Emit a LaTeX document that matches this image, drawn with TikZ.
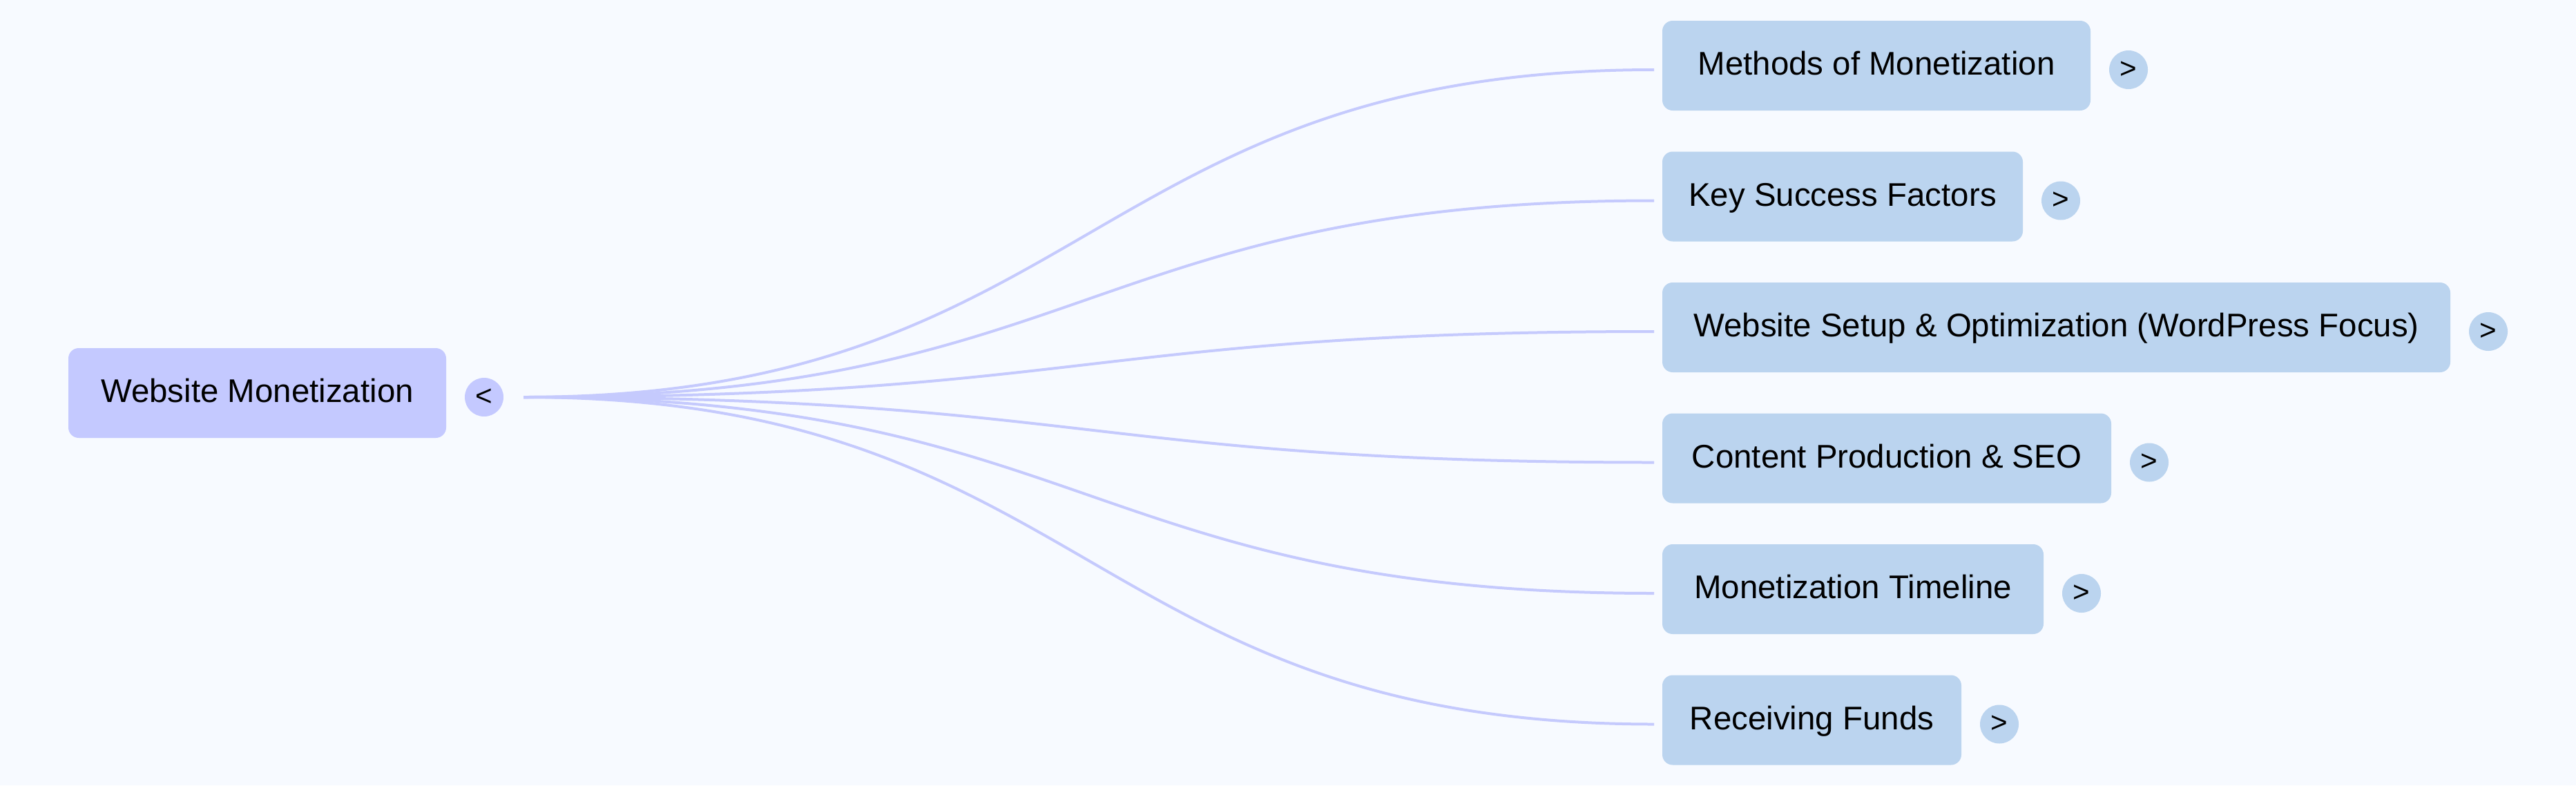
\documentclass[tikz,border=0pt]{standalone}
\usepackage{fontspec}
\setmainfont{Liberation Sans}
\usetikzlibrary{positioning,calc}
\definecolor{bgcolor}{HTML}{F7FAFF}
\definecolor{rootcolor}{HTML}{C4C9FF}
\definecolor{childcolor}{HTML}{BBD4EF}
\definecolor{linkcolor}{HTML}{C5CAFD}

\begin{document}
\begin{tikzpicture}[
  font=\fontsize{13.5pt}{16pt}\selectfont,
  rootbox/.style={fill=rootcolor, rounded corners=0.15cm, minimum height=1.3cm, inner xsep=0.3cm, outer sep=0pt, text height=0.34cm, text depth=0.07cm},
  childbox/.style={rootbox, fill=childcolor},
  toggle/.style={circle, minimum size=0.56cm, inner sep=0pt, outer sep=0pt, font=\fontsize{12pt}{14pt}\selectfont, yshift=-0.06cm},
  link/.style={draw=linkcolor, line width=0.04cm},
]

% Canvas
\fill[bgcolor] (0,0) rectangle (37.3,-11.37);
\useasboundingbox (0,0) rectangle (37.3,-11.37);

% Root topic with its collapse toggle
\node[rootbox, minimum width=5.47cm, anchor=north west] (webmon) at (0.99,-5.04) {Website Monetization};
\node[toggle, fill=rootcolor, right=0.27cm of webmon] (webmon-tg) {<};
\coordinate (hub) at ($(webmon-tg.east)+(0.29,0)$);

% Child topics, stacked top to bottom
\node[childbox, minimum width=6.20cm, anchor=north west] (methods) at (24.07,-0.30) {Methods of Monetization};
\node[childbox, minimum width=5.22cm, below=0.595cm of methods.south west, anchor=north west] (factors) {Key Success Factors};
\node[childbox, minimum width=11.41cm, below=0.595cm of factors.south west, anchor=north west] (setup) {Website Setup \& Optimization (WordPress Focus)};
\node[childbox, minimum width=6.50cm, below=0.595cm of setup.south west, anchor=north west] (content) {Content Production \& SEO};
\node[childbox, minimum width=5.52cm, below=0.595cm of content.south west, anchor=north west] (timeline) {Monetization Timeline};
\node[childbox, minimum width=4.33cm, below=0.595cm of timeline.south west, anchor=north west] (funds) {Receiving Funds};

% Expand toggles
\node[toggle, fill=childcolor, right=0.27cm of methods] (methods-tg) {>};
\node[toggle, fill=childcolor, right=0.27cm of factors] (factors-tg) {>};
\node[toggle, fill=childcolor, right=0.27cm of setup] (setup-tg) {>};
\node[toggle, fill=childcolor, right=0.27cm of content] (content-tg) {>};
\node[toggle, fill=childcolor, right=0.27cm of timeline] (timeline-tg) {>};
\node[toggle, fill=childcolor, right=0.27cm of funds] (funds-tg) {>};

% Line ends just left of each child
\coordinate (methods-in) at ($(methods.west)+(-0.12,-0.06)$);
\coordinate (factors-in) at ($(factors.west)+(-0.12,-0.06)$);
\coordinate (setup-in) at ($(setup.west)+(-0.12,-0.06)$);
\coordinate (content-in) at ($(content.west)+(-0.12,-0.06)$);
\coordinate (timeline-in) at ($(timeline.west)+(-0.12,-0.06)$);
\coordinate (funds-in) at ($(funds.west)+(-0.12,-0.06)$);

% Branches
\draw[link] (hub) .. controls ($(hub)+(8.18,0)$) and ($(methods-in)+(-8.18,0)$) .. (methods-in);
\draw[link] (hub) .. controls ($(hub)+(8.18,0)$) and ($(factors-in)+(-8.18,0)$) .. (factors-in);
\draw[link] (hub) .. controls ($(hub)+(8.18,0)$) and ($(setup-in)+(-8.18,0)$) .. (setup-in);
\draw[link] (hub) .. controls ($(hub)+(8.18,0)$) and ($(content-in)+(-8.18,0)$) .. (content-in);
\draw[link] (hub) .. controls ($(hub)+(8.18,0)$) and ($(timeline-in)+(-8.18,0)$) .. (timeline-in);
\draw[link] (hub) .. controls ($(hub)+(8.18,0)$) and ($(funds-in)+(-8.18,0)$) .. (funds-in);

\end{tikzpicture}
\end{document}
